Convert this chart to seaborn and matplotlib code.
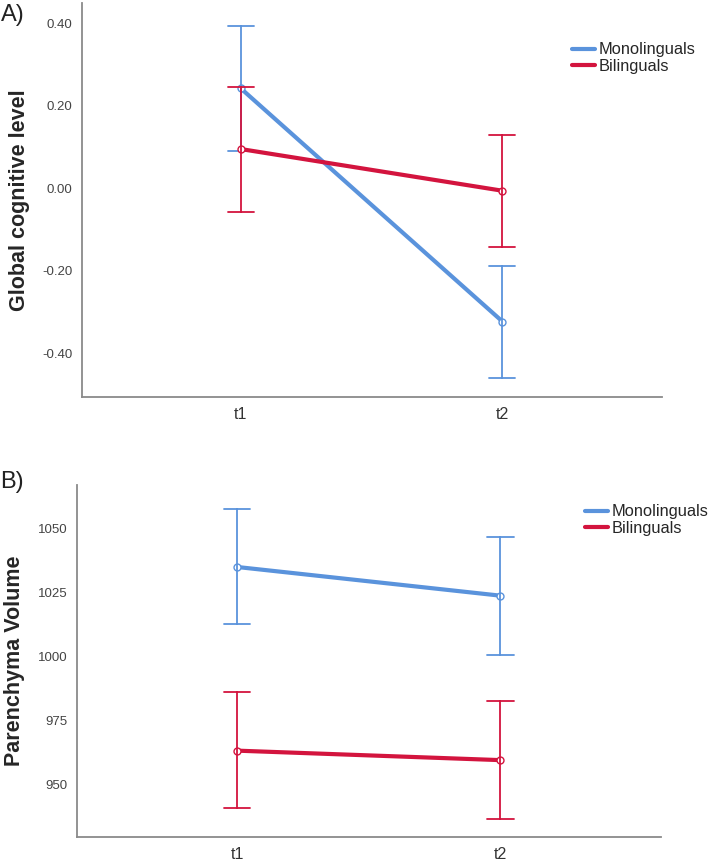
import pandas as pd
import seaborn as sns
import matplotlib.pyplot as plt
from matplotlib.lines import Line2D

# Waarden (gemiddelde en 95% BI)
times = ['t1', 't2']
groups = ['Monolinguals', 'Bilinguals']

cog_mono_mean = [0.242, -0.323]
cog_mono_low = [0.090, -0.459]
cog_mono_high = [0.394, -0.188]
cog_bili_mean = [0.095, -0.006]
cog_bili_low = [-0.057, -0.142]
cog_bili_high = [0.246, 0.129]

vol_mono_mean = [1034.8, 1023.6]
vol_mono_low = [1012.4, 1000.3]
vol_mono_high = [1057.3, 1046.5]
vol_bili_mean = [963.1, 959.4]
vol_bili_low = [940.8, 936.5]
vol_bili_high = [985.8, 982.4]

colors = {'Monolinguals': '#5A93DC', 'Bilinguals': '#D3143E'}


def make_df(mono, bili):
    # per groep/tijd: ondergrens, gemiddelde, bovengrens -> mediaan + 100% interval
    rows = []
    for group, (mean, low, high) in zip(groups, [mono, bili]):
        for i, t in enumerate(times):
            for v in (low[i], mean[i], high[i]):
                rows.append({'time': t, 'group': group, 'value': v})
    return pd.DataFrame(rows)


df_cog = make_df((cog_mono_mean, cog_mono_low, cog_mono_high),
                 (cog_bili_mean, cog_bili_low, cog_bili_high))
df_vol = make_df((vol_mono_mean, vol_mono_low, vol_mono_high),
                 (vol_bili_mean, vol_bili_low, vol_bili_high))

sns.set_style('white')
plt.rcParams['font.family'] = ['Liberation Sans', 'DejaVu Sans']

fig = plt.figure(figsize=(7.09, 8.61), dpi=100)
ax1 = fig.add_axes([0.1157, 0.5389, 0.818, 0.4576])
ax2 = fig.add_axes([0.1090, 0.0279, 0.8233, 0.4088])


def draw(ax, df, ylim, yticks, fmt, ylabel, legend_xy):
    sns.pointplot(data=df, x='time', y='value', hue='group', order=times,
                  hue_order=groups, palette=colors, estimator='median',
                  errorbar=('pi', 100), capsize=0.1, dodge=False,
                  markers='o', markersize=5, markerfacecolor='white',
                  markeredgewidth=1, linewidth=3,
                  err_kws={'linewidth': 1.3}, ax=ax, legend=False)
    ax.set_xlim(-0.607, 1.61)
    ax.set_ylim(*ylim)
    ax.set_yticks(yticks)
    ax.set_yticklabels([fmt.format(v) for v in yticks])
    ax.set_xlabel('')
    ax.set_ylabel(ylabel, fontsize=15.5, fontweight='bold', labelpad=9)
    for side in ['top', 'right']:
        ax.spines[side].set_visible(False)
    for side in ['left', 'bottom']:
        ax.spines[side].set_color('#8a8a8a')
        ax.spines[side].set_linewidth(1.3)
    ax.tick_params(axis='y', direction='inout', length=8, width=1,
                   color='#b0b0b0', labelsize=9.5, labelcolor='#444444', pad=3)
    ax.tick_params(axis='x', length=0, labelsize=11.5, labelcolor='#333333', pad=7)
    handles = [Line2D([], [], color=colors[g], linewidth=3) for g in groups]
    ax.legend(handles, groups, loc='upper left', bbox_to_anchor=legend_xy,
              frameon=False, fontsize=11.8, handlelength=1.4, handletextpad=0.2,
              labelspacing=0.1, borderaxespad=0, borderpad=0)


draw(ax1, df_cog, (-0.506, 0.449), [-0.4, -0.2, 0.0, 0.2, 0.4], '{:.2f}',
     'Global cognitive level', (0.845, 0.9))
draw(ax2, df_vol, (929.4, 1066.8), [950, 975, 1000, 1025, 1050], '{:.0f}',
     'Parenchyma Volume', (0.87, 0.945))

fig.text(0.002, 0.982, 'A)', fontsize=17, va='center', ha='left', color='#222222')
fig.text(0.0, 0.44, 'B)', fontsize=17, va='center', ha='left', color='#222222')

plt.savefig('out.png', dpi=100)
